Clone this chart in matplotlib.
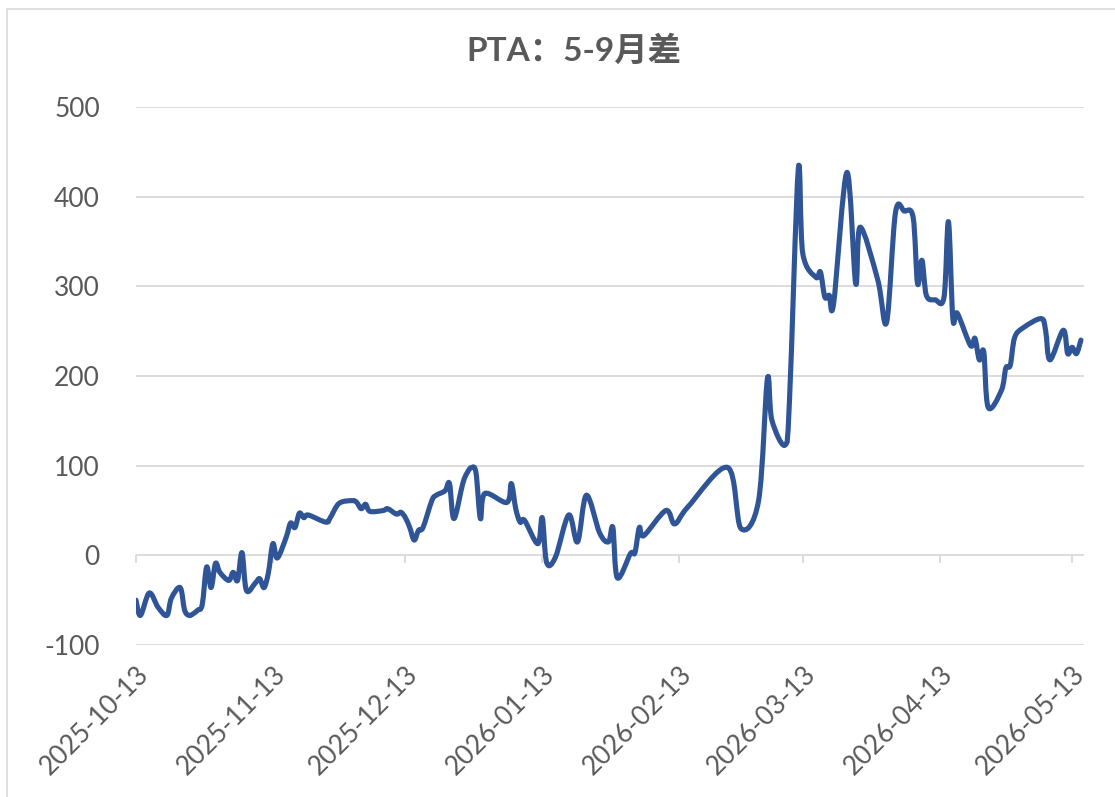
import datetime as dt
import numpy as np
import matplotlib
matplotlib.use('Agg')
import matplotlib.pyplot as plt
import matplotlib.dates as mdates
from matplotlib.path import Path
from matplotlib.patches import PathPatch, Rectangle

plt.rcParams['font.family'] = ['Lato', 'Noto Sans CJK SC', 'DejaVu Sans']

title = 'PTA：5-9月差'

dates = [
    '2025-10-13', '2025-10-14', '2025-10-16', '2025-10-18', '2025-10-20', '2025-10-21',
    '2025-10-23', '2025-10-24', '2025-10-25', '2025-10-26', '2025-10-27', '2025-10-28',
    '2025-10-29', '2025-10-30', '2025-10-31', '2025-11-01', '2025-11-03', '2025-11-04',
    '2025-11-05', '2025-11-06', '2025-11-07', '2025-11-09', '2025-11-10', '2025-11-11',
    '2025-11-12', '2025-11-13', '2025-11-14', '2025-11-16', '2025-11-17', '2025-11-18',
    '2025-11-19', '2025-11-20', '2025-11-21', '2025-11-25', '2025-11-26', '2025-11-28',
    '2025-12-01', '2025-12-02', '2025-12-03', '2025-12-04', '2025-12-05', '2025-12-08',
    '2025-12-09', '2025-12-11', '2025-12-12', '2025-12-13', '2025-12-14', '2025-12-15',
    '2025-12-16', '2025-12-17', '2025-12-19', '2025-12-20', '2025-12-22', '2025-12-23',
    '2025-12-24', '2025-12-26', '2025-12-27', '2025-12-28', '2025-12-29', '2025-12-30',
    '2025-12-31', '2026-01-05', '2026-01-06', '2026-01-07', '2026-01-08', '2026-01-09',
    '2026-01-12', '2026-01-13', '2026-01-14', '2026-01-16', '2026-01-19', '2026-01-21',
    '2026-01-23', '2026-01-26', '2026-01-28', '2026-01-29', '2026-01-30', '2026-02-02',
    '2026-02-03', '2026-02-04', '2026-02-05', '2026-02-10', '2026-02-12', '2026-02-15',
    '2026-02-24', '2026-02-27', '2026-03-03', '2026-03-05', '2026-03-06', '2026-03-09',
    '2026-03-10', '2026-03-12', '2026-03-13', '2026-03-16', '2026-03-17', '2026-03-18',
    '2026-03-19', '2026-03-20', '2026-03-23', '2026-03-25', '2026-03-26', '2026-03-30',
    '2026-04-01', '2026-04-03', '2026-04-05', '2026-04-07', '2026-04-08', '2026-04-09',
    '2026-04-10', '2026-04-12', '2026-04-14', '2026-04-15', '2026-04-16', '2026-04-17',
    '2026-04-20', '2026-04-21', '2026-04-22', '2026-04-23', '2026-04-24', '2026-04-27',
    '2026-04-28', '2026-04-29', '2026-04-30', '2026-05-02', '2026-05-06', '2026-05-07',
    '2026-05-08', '2026-05-11', '2026-05-12', '2026-05-13', '2026-05-14', '2026-05-15',
]

values = [
    -50, -67, -42, -58, -67, -48,
    -36, -61, -67, -65, -61, -55,
    -13, -36, -9, -19, -28, -19,
    -28, 3, -39, -31, -26, -36,
    -19, 13, -3, 20, 36, 31,
    47, 42, 45, 37, 42, 58,
    61, 59, 52, 57, 49, 50,
    52, 46, 48, 42, 31, 17,
    28, 31, 61, 67, 72, 80,
    41, 80, 92, 98, 92, 41,
    69, 59, 80, 52, 37, 39,
    13, 42, -8, -2, 45, 15,
    67, 25, 15, 31, -25, 2,
    3, 31, 22, 50, 35, 54,
    98, 30, 61, 197, 151, 123,
    173, 431, 337, 310, 316, 288,
    290, 281, 427, 303, 366, 307,
    260, 382, 384, 377, 303, 329,
    290, 285, 288, 372, 264, 270,
    234, 242, 218, 227, 165, 184,
    209, 212, 243, 254, 264, 251,
    218, 251, 225, 232, 225, 240,
]

tick_dates = ['2025-10-13', '2025-11-13', '2025-12-13', '2026-01-13',
              '2026-02-13', '2026-03-13', '2026-04-13', '2026-05-13']
y_ticks = [-100, 0, 100, 200, 300, 400, 500]

line_color = '#2F5597'
grid_color = '#D9D9D9'
text_color = '#595959'

W, H = 1115, 797
fig = plt.figure(figsize=(W / 100, H / 100), dpi=100)
fig.patch.set_facecolor('white')

# outer chart border
fig.patches.append(Rectangle((7 / W, -0.01), 1.2, 1 - 9 / H + 0.01, transform=fig.transFigure,
                             fill=False, edgecolor=grid_color, lw=1.2))

ax = fig.add_axes([136 / W, 1 - 645 / H, (1084 - 136) / W, (645 - 107) / H])

x = mdates.date2num([dt.date.fromisoformat(d) for d in dates])
y = np.asarray(values, dtype=float)
pts = np.column_stack([x, y])
ext = np.vstack([pts[0], pts, pts[-1]])
verts = [tuple(pts[0])]
codes = [Path.MOVETO]
for i in range(len(pts) - 1):
    p0, p1, p2, p3 = ext[i], ext[i + 1], ext[i + 2], ext[i + 3]
    c1 = p1 + (p2 - p0) / 6.0
    c2 = p2 - (p3 - p1) / 6.0
    verts += [tuple(c1), tuple(c2), tuple(p2)]
    codes += [Path.CURVE4, Path.CURVE4, Path.CURVE4]
ax.add_patch(PathPatch(Path(verts, codes), fill=False, edgecolor=line_color, lw=3.7,
                       capstyle='round', joinstyle='round', zorder=3))

x0 = mdates.date2num(dt.date(2025, 10, 13))
ax.set_xlim(x0, x0 + 214.7)
ax.set_ylim(-100, 500)
ax.set_yticks(y_ticks)
ax.set_yticklabels([str(v) for v in y_ticks])
ax.yaxis.grid(True, color=grid_color, lw=1.3)
ax.set_axisbelow(True)
for s in ax.spines.values():
    s.set_visible(False)
ax.tick_params(axis='y', length=0, pad=26, labelsize=19, labelcolor=text_color)

tick_nums = mdates.date2num([dt.date.fromisoformat(d) for d in tick_dates])
ax.set_xticks(tick_nums)
ax.set_xticklabels(tick_dates, rotation=45, ha='right', va='top', rotation_mode='anchor')
ax.tick_params(axis='x', length=0, pad=12, labelsize=19, labelcolor=text_color)

# tick marks hanging from the zero line
sec = ax.secondary_xaxis(100 / 600)
sec.set_xticks(tick_nums)
sec.set_xticklabels([])
sec.tick_params(axis='x', direction='out', length=6, width=1.3, color=grid_color)
for s in sec.spines.values():
    s.set_visible(False)

fig.text(574 / W, 1 - 50 / H, title, ha='center', va='center', fontsize=24,
         fontweight='bold', color=text_color)

fig.savefig('out.png', dpi=100, facecolor='white')
